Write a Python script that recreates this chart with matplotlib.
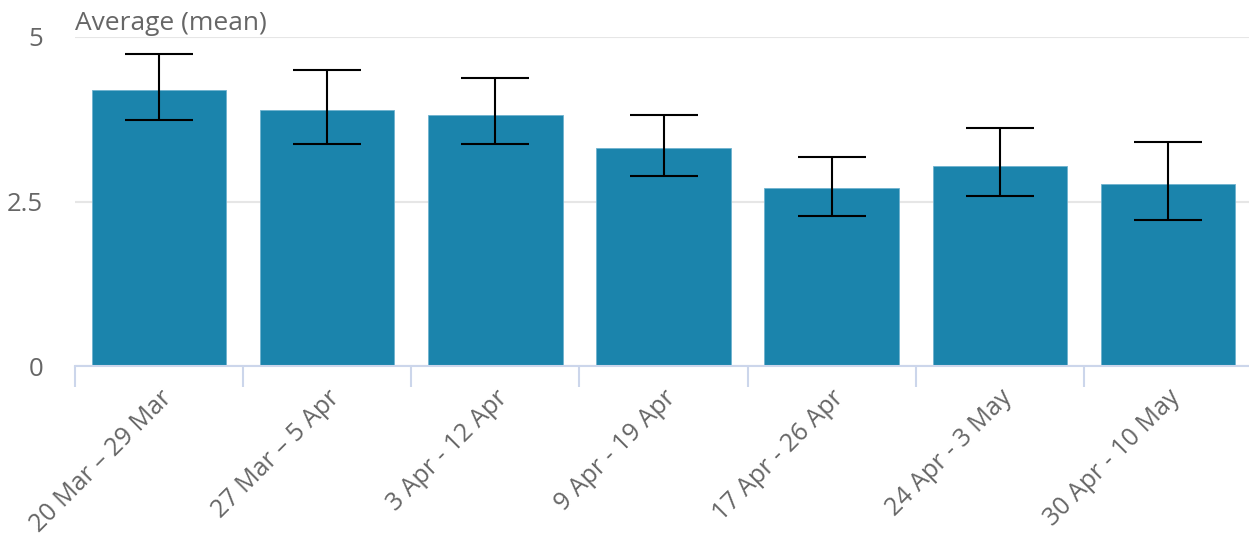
import matplotlib
matplotlib.use("Agg")
import matplotlib.pyplot as plt
import numpy as np

plt.rcParams['font.family'] = ['Open Sans', 'DejaVu Sans']

# data
periods = ["20 Mar \u2013 29 Mar", "27 Mar \u2013 5 Apr", "3 Apr - 12 Apr",
           "9 Apr - 19 Apr", "17 Apr - 26 Apr", "24 Apr - 3 May", "30 Apr - 10 May"]
means = [4.19, 3.89, 3.81, 3.31, 2.71, 3.04, 2.77]
err_low = [3.74, 3.37, 3.37, 2.89, 2.28, 2.58, 2.22]
err_high = [4.74, 4.50, 4.38, 3.81, 3.18, 3.62, 3.40]

grey = '#666666'
fig = plt.figure(figsize=(12.49, 5.33), dpi=100)
ax = fig.add_axes([75 / 1249, 1 - 366 / 533, (1252 - 75) / 1249, (366 - 37) / 533])

x = np.arange(len(periods))
m = np.array(means)
yerr = [m - np.array(err_low), np.array(err_high) - m]
ax.bar(x, means, width=0.8, color='#1b84ac', edgecolor='#6fb2cf', linewidth=0.6, zorder=2)
ax.errorbar(x, means, yerr=yerr, fmt='none', ecolor='black', elinewidth=1.5,
            capsize=24.5, capthick=1.5, zorder=3)

ax.set_xlim(-0.5, len(periods) - 0.5)
ax.set_ylim(0, 5)
ax.set_yticks([0, 2.5, 5])
ax.set_yticklabels(['0', '2.5', '5'])
ax.yaxis.grid(True, color='#e6e6e6', linewidth=1.5, zorder=0)
ax.set_axisbelow(True)

for s in ['top', 'right', 'left']:
    ax.spines[s].set_visible(False)
ax.spines['bottom'].set_color('#ccd6eb')
ax.spines['bottom'].set_linewidth(1.5)

ax.tick_params(axis='y', length=0, labelsize=18.5, labelcolor=grey, pad=23)
ax.set_xticks(x)
ax.set_xticklabels(periods, rotation=45, ha='right', rotation_mode='anchor',
                   fontsize=18, color=grey)
ax.tick_params(axis='x', length=0, pad=14)
ax.set_xticks(np.arange(len(periods) + 1) - 0.5, minor=True)
ax.tick_params(axis='x', which='minor', length=15, width=1.5, color='#ccd6eb')

fig.text(75 / 1249, 1 - 30 / 533, "Average (mean)", fontsize=19, color=grey,
         ha='left', va='baseline')

fig.savefig('out.png', dpi=100)
